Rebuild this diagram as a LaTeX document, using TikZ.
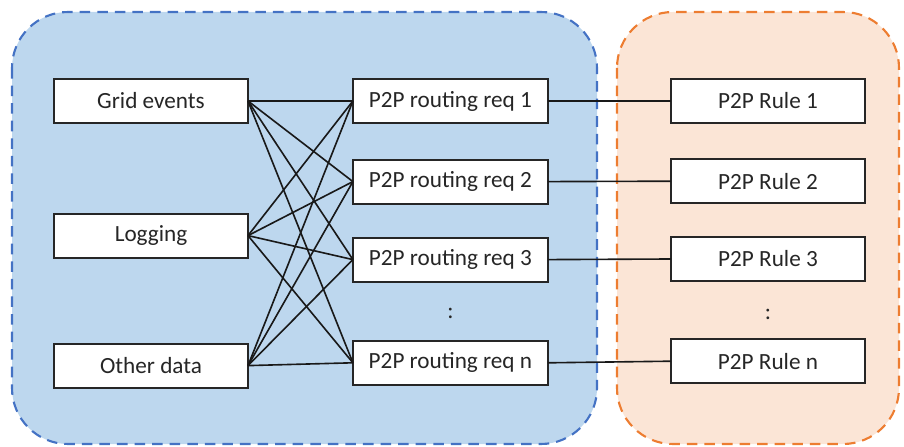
\documentclass[tikz,border=0pt]{standalone}
\usepackage{fontspec}
\setmainfont{Carlito}
\definecolor{grpblue}{HTML}{BDD7EE}
\definecolor{grpblueline}{HTML}{4472C4}
\definecolor{grporange}{HTML}{FBE5D6}
\definecolor{grporangeline}{HTML}{ED7D31}
\definecolor{txtgray}{HTML}{262626}

\begin{document}
\begin{tikzpicture}[cell/.style = {rectangle,draw=black!85,fill=white,line width=1.5pt,minimum width=4.85cm,minimum height=1.1cm,outer sep=0mm,text=txtgray,font=\fontsize{16.5}{19}\selectfont},
                    group/.style = {rounded corners=1.4cm,dashed,line width=1.5pt,dash pattern=on 7.5pt off 5pt},
                    link/.style = {black!90,line width=1.15pt}]
\useasboundingbox (0,0) rectangle (22.6,-11.175);
\draw[group,fill=grpblue,draw=grpblueline] (0.3,-0.3) rectangle (14.925,-11.1);
\draw[group,fill=grporange,draw=grporangeline] (15.425,-0.3) rectangle (22.475,-11.1);
\foreach \t/\y [count=\j] in {Grid events/-2.525, Logging/-5.89, Other data/-9.14}
    \node[cell] (src\j) at (3.775,\y) {\t};
\foreach \k/\y in {1/-2.525, 2/-4.54, 3/-6.49, n/-9.07}
    \node[cell,minimum width=4.875cm] (req\k) at (11.26,\y) {P2P routing req \k};
\foreach \k/\y in {1/-2.525, 2/-4.53, 3/-6.475, n/-9.03}
    \node[cell] (rule\k) at (19.2,\y) {P2P Rule \k};
\node[text=txtgray,font=\fontsize{16.5}{19}\selectfont] (reqdots) at (11.26,-7.83) {:};
\node[text=txtgray,font=\fontsize{16.5}{19}\selectfont] (ruledots) at (19.2,-7.87) {:};
% every source feeds every routing request
\foreach \i in {1,2,3}
    \foreach \k in {1,2,3,n}
        \draw[link] (src\i.east) -- (req\k.west);
\foreach \k in {1,2,3,n}
    \draw[link] (req\k.east) -- (rule\k.west);
\end{tikzpicture}
\end{document}
